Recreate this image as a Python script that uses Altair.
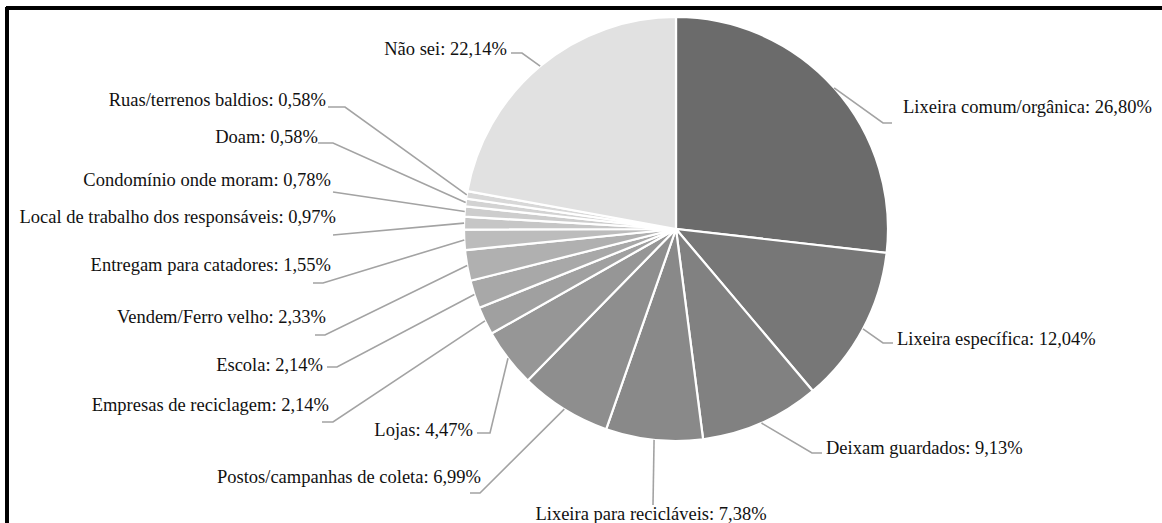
import math
import altair as alt
import pandas as pd

# ---------------- data ----------------
categories = [
    "Lixeira comum/orgânica",
    "Lixeira específica",
    "Deixam guardados",
    "Lixeira para recicláveis",
    "Postos/campanhas de coleta",
    "Lojas",
    "Empresas de reciclagem",
    "Escola",
    "Vendem/Ferro velho",
    "Entregam para catadores",
    "Local de trabalho dos responsáveis",
    "Condomínio onde moram",
    "Doam",
    "Ruas/terrenos baldios",
    "Não sei",
]
values = [26.80, 12.04, 9.13, 7.38, 6.99, 4.47, 2.14, 2.14, 2.33, 1.55, 0.97, 0.78, 0.58, 0.58, 22.14]

# ---------------- styles / layout ----------------
grays = ["#6b6b6b", "#777777", "#818181", "#898989", "#8e8e8e", "#969696", "#a0a0a0",
         "#a8a8a8", "#b0b0b0", "#bcbcbc", "#c6c6c6", "#cdcdcd", "#d3d3d3", "#d8d8d8", "#e1e1e1"]
W, H = 1162, 523
CX, CY, R = 676, 229, 212
FONT = "Liberation Serif"

# label anchor positions (page pixels), alignment, and leader-line elbow / end points
label_x = [903, 897, 826, 651, 481, 473, 329, 323, 326, 331, 336, 331, 318, 326, 507]
label_y = [107, 339, 448, 514, 477, 430, 405, 365, 317, 265, 217, 180, 137, 100, 49]
label_align = ["left", "left", "left", "center", "right", "right", "right", "right",
               "right", "right", "right", "right", "right", "right", "right"]
elbow_x = [883, 883, 812, 653, 480, 490, 333, 337, 325, 323, 333, 333, 333, 345, 522]
elbow_y = [123, 343, 453, 505, 493, 433, 422, 367, 335, 283, 235, 192, 143, 107, 53]
end_x = [892, 893, 822, 653, 470, 477, 322, 327, 315, 313, 333, 333, 318, 328, 511]
end_y = [123, 343, 453, 505, 493, 433, 422, 367, 335, 283, 235, 192, 143, 107, 53]

total = sum(values)


def fmt(v):
    return f"{v:.2f}".replace(".", ",") + "%"


pie_df = pd.DataFrame({"cat": categories, "value": values, "idx": list(range(len(values)))})

# leader lines: start on slice edge at mid-angle (from data), then elbow, then end
line_rows = []
cum = 0.0
for i, (c, v) in enumerate(zip(categories, values)):
    mid = (cum + v / 2) / total * 2 * math.pi
    cum += v
    sx = CX + R * math.sin(mid)
    sy = CY - R * math.cos(mid)
    pts = [(sx, sy), (elbow_x[i], elbow_y[i]), (end_x[i], end_y[i])]
    for k, (px, py) in enumerate(pts):
        line_rows.append({"cat": c, "k": k, "px": px, "py": py})
line_df = pd.DataFrame(line_rows)

text_df = pd.DataFrame({
    "label": [f"{c}: {fmt(v)}" for c, v in zip(categories, values)],
    "px": label_x, "py": label_y, "align": label_align,
})

xs = alt.Scale(domain=[0, W], nice=False, zero=False)
ys = alt.Scale(domain=[0, H], nice=False, zero=False, reverse=True)

pie = alt.Chart(pie_df).mark_arc(radius=R, stroke="white", strokeWidth=2.2).encode(
    theta=alt.Theta("value:Q", stack=True),
    order=alt.Order("idx:Q", sort="ascending"),
    color=alt.Color("cat:N", scale=alt.Scale(domain=categories, range=grays), legend=None),
    x=alt.value(CX), y=alt.value(CY),
)

lines = alt.Chart(line_df).mark_line(color="#a3a3a3", strokeWidth=1.6).encode(
    x=alt.X("px:Q", scale=xs, axis=None),
    y=alt.Y("py:Q", scale=ys, axis=None),
    detail="cat:N",
    order="k:Q",
)


def text_layer(align):
    return alt.Chart(text_df).transform_filter(alt.datum.align == align).mark_text(
        align=align, baseline="middle", font=FONT, fontSize=18.5, color="#111111"
    ).encode(
        x=alt.X("px:Q", scale=xs, axis=None),
        y=alt.Y("py:Q", scale=ys, axis=None),
        text="label:N",
    )


frame_top = alt.Chart(pie_df).mark_rule(color="black", strokeWidth=2.5).encode(
    x=alt.value(6), x2=alt.value(W), y=alt.value(8)
)
frame_left = alt.Chart(pie_df).mark_rule(color="black", strokeWidth=2.5).encode(
    x=alt.value(7), y=alt.value(7), y2=alt.value(H)
)

chart = alt.layer(
    pie, lines, text_layer("left"), text_layer("right"), text_layer("center"),
    frame_top, frame_left,
).properties(
    width=W, height=H, padding=0, autosize=alt.AutoSizeParams(type="none"),
    background="white",
).configure_view(stroke="transparent", strokeWidth=0)

chart.save("out.html", embed_options={"renderer": "svg", "actions": False})
